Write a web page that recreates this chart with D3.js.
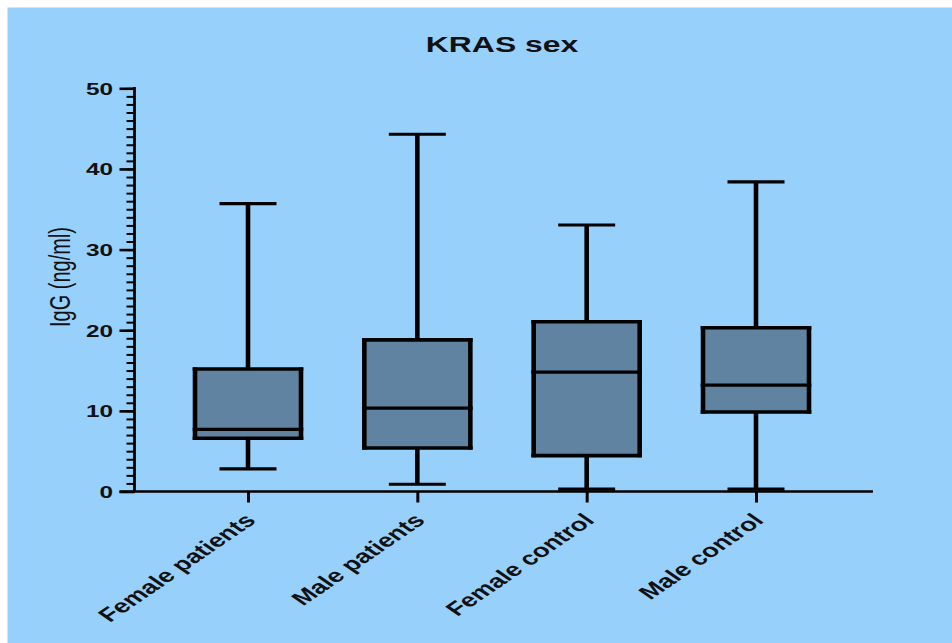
<!DOCTYPE html>
<html>
<head>
<meta charset="utf-8">
<script src="https://cdn.jsdelivr.net/npm/d3@7"></script>
<style>
  html, body { margin: 0; padding: 0; background: #ffffff; }
  svg { display: block; }
  text { font-family: "Liberation Sans", Arial, Helvetica, sans-serif; fill: #111; }
</style>
</head>
<body>
<svg id="chart" width="952" height="643"></svg>
<script>
// Box-plot summaries of serum IgG by group
const categories = ["Female patients", "Male patients", "Female control", "Male control"];
const whiskerLow  = [2.8, 0.9, 0.3, 0.3];
const q1          = [6.6, 5.4, 4.45, 9.85];
const median      = [7.7, 10.35, 14.8, 13.2];
const q3          = [15.2, 18.8, 21.05, 20.3];
const whiskerHigh = [35.7, 44.3, 33.05, 38.4];
const yMajorTicks = [0, 10, 20, 30, 40, 50];
const yMinorTicks = d3.range(0, 51, 1);
const titleText = "KRAS sex";
const yLabelText = "IgG (ng/ml)";

const boxes = categories.map((c, i) => ({
  name: c, lo: whiskerLow[i], q1: q1[i], med: median[i], q3: q3[i], hi: whiskerHigh[i]
}));

// Text is drawn horizontally widened, as in the exported figure
const SX = 1.45;
const ink = "#000";
const boxFill = "#5f83a0";

const svg = d3.select("#chart");

// background panel
svg.append("rect")
  .attr("x", 7.5).attr("y", 7.5)
  .attr("width", 952 - 7.5).attr("height", 643 - 7.5)
  .attr("fill", "#98d0fc");

const axisX = 134.5;      // y axis position
const axisEnd = 873;      // right end of x axis
const y = d3.scaleLinear().domain([0, 50]).range([491.5, 88.3]);
const x = d3.scalePoint().domain(categories).range([248, 756]);

// title
svg.append("text")
  .attr("transform", `translate(502,52) scale(${SX},1)`)
  .attr("text-anchor", "middle")
  .attr("font-weight", "bold")
  .attr("font-size", 22)
  .text(titleText);

// y axis label
svg.append("text")
  .attr("transform", `translate(60,277) scale(${SX},1) rotate(-90)`)
  .attr("text-anchor", "middle")
  .attr("dominant-baseline", "central")
  .attr("font-size", 20)
  .text(yLabelText);

// minor ticks
const gMinor = svg.append("g").attr("transform", `translate(${axisX},0)`)
  .call(d3.axisLeft(y).tickValues(yMinorTicks).tickSize(8).tickFormat(""));
gMinor.select(".domain").remove();
gMinor.selectAll("line").attr("stroke", ink).attr("stroke-width", 2);

// major ticks with labels
const gMajor = svg.append("g").attr("transform", `translate(${axisX},0)`)
  .call(d3.axisLeft(y).tickValues(yMajorTicks).tickSize(15).tickFormat(d3.format("d")));
gMajor.select(".domain").remove();
gMajor.selectAll("line").attr("stroke", ink).attr("stroke-width", 2.6);
gMajor.selectAll("text")
  .attr("x", null).attr("dy", null)
  .attr("dominant-baseline", "central")
  .attr("transform", `translate(-21.5,0) scale(${SX},1)`)
  .attr("text-anchor", "end")
  .attr("font-family", "\"Liberation Sans\", Arial, sans-serif")
  .attr("font-weight", "bold")
  .attr("font-size", 16.8)
  .attr("fill", "#111");

// axis lines
svg.append("line")
  .attr("x1", axisX).attr("x2", axisX)
  .attr("y1", y(50) - 1.3).attr("y2", y(0))
  .attr("stroke", ink).attr("stroke-width", 2.8);
svg.append("line")
  .attr("x1", axisX - 15).attr("x2", axisEnd)
  .attr("y1", y(0)).attr("y2", y(0))
  .attr("stroke", ink).attr("stroke-width", 2.6);

// x ticks and rotated category labels
const gX = svg.append("g").attr("transform", `translate(0,${y(0)})`)
  .call(d3.axisBottom(x).tickSize(11).tickFormat(""));
gX.select(".domain").remove();
gX.selectAll("line").attr("stroke", ink).attr("stroke-width", 3);

svg.append("g").selectAll("text")
  .data(categories)
  .join("text")
  .attr("transform", d => `translate(${x(d) + 9},${y(0) + 30}) scale(${SX},1) rotate(-45)`)
  .attr("text-anchor", "end")
  .attr("font-weight", "bold")
  .attr("font-size", 19)
  .text(d => d);

// box plots
const halfBox = 53;
const halfCap = 28.5;
const hW = 3.2;   // horizontal stroke
const vW = 4.6;   // vertical stroke

const g = svg.append("g").selectAll("g").data(boxes).join("g");

// whisker stems
g.append("line")
  .attr("x1", d => x(d.name)).attr("x2", d => x(d.name))
  .attr("y1", d => y(d.hi)).attr("y2", d => y(d.q3))
  .attr("stroke", ink).attr("stroke-width", vW);
g.append("line")
  .attr("x1", d => x(d.name)).attr("x2", d => x(d.name))
  .attr("y1", d => y(d.q1)).attr("y2", d => y(d.lo))
  .attr("stroke", ink).attr("stroke-width", vW);
// caps
g.append("line")
  .attr("x1", d => x(d.name) - halfCap).attr("x2", d => x(d.name) + halfCap)
  .attr("y1", d => y(d.hi)).attr("y2", d => y(d.hi))
  .attr("stroke", ink).attr("stroke-width", hW);
g.append("line")
  .attr("x1", d => x(d.name) - halfCap).attr("x2", d => x(d.name) + halfCap)
  .attr("y1", d => y(d.lo)).attr("y2", d => y(d.lo))
  .attr("stroke", ink).attr("stroke-width", hW);

// box body
g.append("rect")
  .attr("x", d => x(d.name) - halfBox)
  .attr("y", d => y(d.q3))
  .attr("width", halfBox * 2)
  .attr("height", d => y(d.q1) - y(d.q3))
  .attr("fill", boxFill);
// box top / bottom / median
["q3", "q1", "med"].forEach(k => {
  g.append("line")
    .attr("x1", d => x(d.name) - halfBox - vW / 2).attr("x2", d => x(d.name) + halfBox + vW / 2)
    .attr("y1", d => y(d[k])).attr("y2", d => y(d[k]))
    .attr("stroke", ink).attr("stroke-width", k === "med" ? hW : hW + 0.4);
});
// box sides
[-1, 1].forEach(side => {
  g.append("line")
    .attr("x1", d => x(d.name) + side * halfBox).attr("x2", d => x(d.name) + side * halfBox)
    .attr("y1", d => y(d.q3) - hW / 2).attr("y2", d => y(d.q1) + hW / 2)
    .attr("stroke", ink).attr("stroke-width", vW);
});
</script>
</body>
</html>
